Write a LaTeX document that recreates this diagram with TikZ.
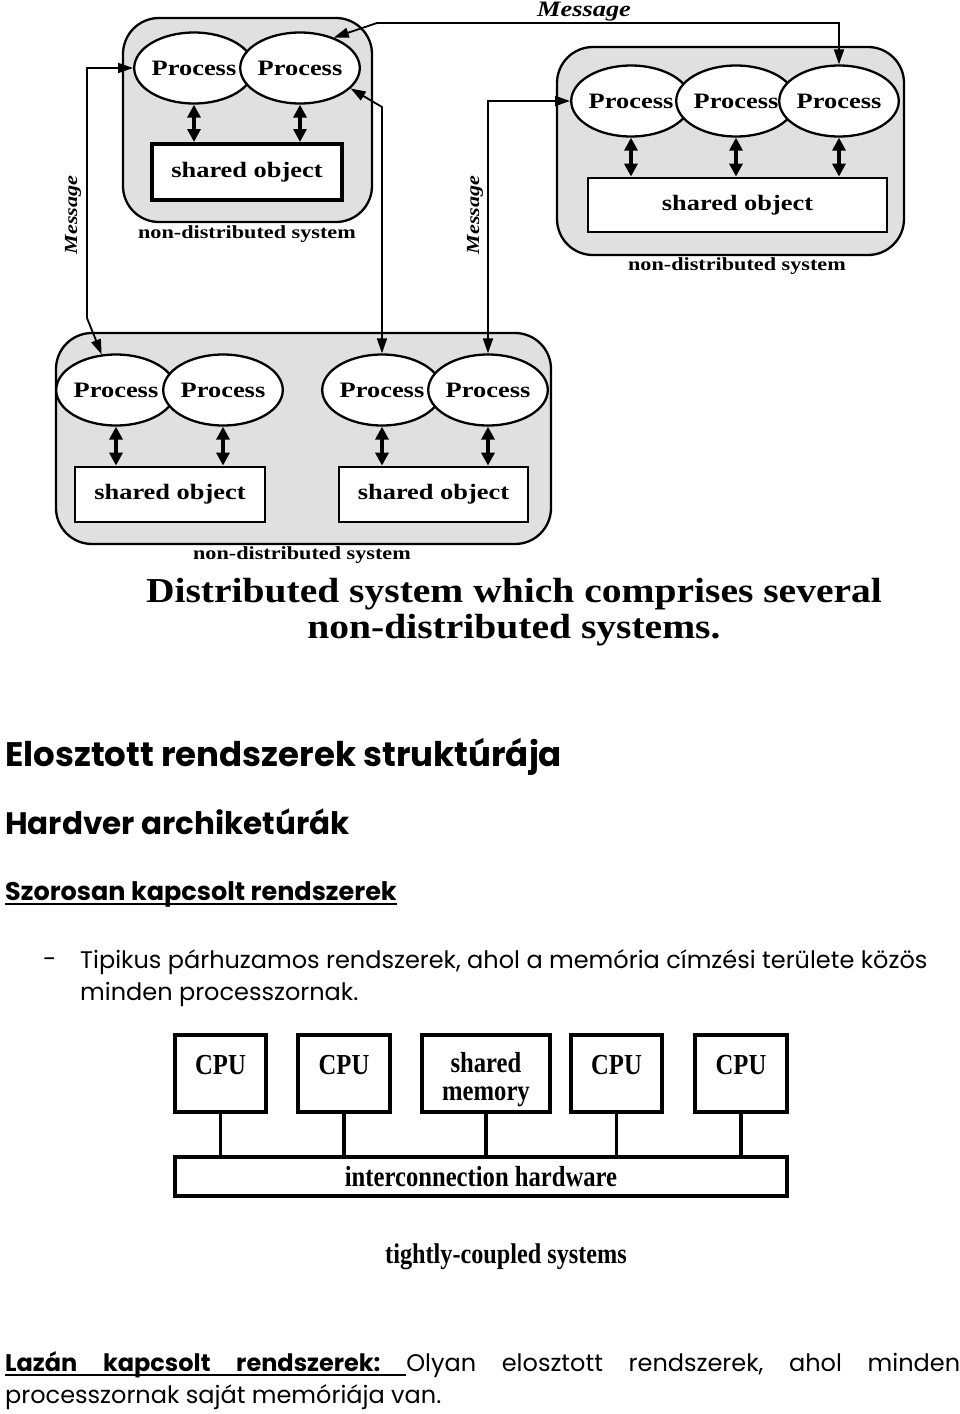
\documentclass[tikz,border=0pt]{standalone}
\usepackage{fontspec}
\setmainfont{Poppins}
\newfontfamily\figfont[FakeStretch=1.2]{Liberation Serif}
\newfontfamily\capfont[FakeStretch=1.13]{Liberation Serif}
\newfontfamily\cpufont[FakeStretch=0.85]{Liberation Serif}
\usetikzlibrary{shapes.geometric, arrows.meta}

\definecolor{sysgray}{RGB}{224,224,224}

% underlined word and underlined stretchable gap
\newcommand\ulword[1]{\setbox0\hbox{#1}\rlap{\vrule height -2.5pt depth 4.5pt width \wd0}\box0}
\newcommand\ulgap{\leaders\hrule height -2.5pt depth 4.5pt\hskip 0.3em plus 1fil}
\newcommand\gap{\hskip 0.3em plus 1fil}

\tikzset{
    system/.style={draw, line width=2.3pt, fill=sysgray, rounded corners=36pt},
    process/.style={ellipse, draw, line width=2.3pt, fill=white, minimum width=100pt, minimum height=71pt, inner sep=0pt, font=\figfont\bfseries\fontsize{22}{22}\selectfont},
    object/.style={draw, line width=2.8pt, fill=white, inner sep=0pt, font=\figfont\bfseries\fontsize{22}{22}\selectfont},
    sysname/.style={font=\figfont\bfseries\fontsize{18.5}{18.5}\selectfont},
    msglabel/.style={font=\figfont\bfseries\itshape\fontsize{22}{22}\selectfont},
    msg/.style={line width=1.8pt, {Triangle[length=15pt,width=10pt]}-{Triangle[length=15pt,width=10pt]}},
    access/.style={line width=3.2pt, {Triangle[length=13pt,width=13pt]}-{Triangle[length=13pt,width=13pt]}},
    cpubox/.style={draw, line width=3.5pt, minimum height=77pt, inner sep=0pt, font=\cpufont\bfseries\fontsize{29}{28}\selectfont},
    bus/.style={line width=3.5pt},
    heading/.style={anchor=west, inner sep=0pt, font=\bfseries}
}

\begin{document}
\begin{tikzpicture}[x=1pt, y=-1pt]
    \useasboundingbox (0,0) rectangle (960,1414);

    %% Distributed system of several non-distributed systems

    % Top left
    \draw[system] (123,18) rectangle (372,222);
    \node[process] (tlA) at (194,68) {Process};
    \node[process] (tlB) at (300,68) {Process};
    \node[object, line width=4pt, minimum width=190pt, minimum height=56pt] (tlObj) at (247,172) {shared object};
    \node[sysname] (tlName) at (247,234) {non-distributed system};
    \draw[access] (tlA.south) -- (tlA.south |- tlObj.north);
    \draw[access] (tlB.south) -- (tlB.south |- tlObj.north);

    % Top right
    \draw[system] (557,47) rectangle (904,255);
    \node[process] (trA) at (631,101) {Process};
    \node[process] (trB) at (736,101) {Process};
    \node[process] (trC) at (839,101) {Process};
    \node[object, minimum width=299pt, minimum height=54pt] (trObj) at (737.5,205) {shared object};
    \node[sysname] (trName) at (737,266) {non-distributed system};
    \foreach \p in {trA,trB,trC}
        \draw[access] (\p.south) -- (\p.south |- trObj.north);

    % Bottom
    \draw[system] (56,333) rectangle (551,544);
    \node[process] (blA) at (116,390) {Process};
    \node[process] (blB) at (223,390) {Process};
    \node[process] (blC) at (382,390) {Process};
    \node[process] (blD) at (488,390) {Process};
    \node[object, minimum width=190pt, minimum height=55pt] (blObj) at (170,494.5) {shared object};
    \node[object, minimum width=189pt, minimum height=55pt] (brObj) at (433.5,494.5) {shared object};
    \node[sysname] (blName) at (302,555) {non-distributed system};
    \foreach \p/\o in {blA/blObj,blB/blObj,blC/brObj,blD/brObj}
        \draw[access] (\p.south) -- (\p.south |- \o.north);

    % Messages
    \draw[msg] (tlA.west) -- (87,68) -- (87,318) -- (blA.112);
    \draw[msg] (tlB.-22) -- (382,107) -- (blC.north);
    \draw[msg] (tlB.42) -- (377,23) -- (839,23) -- (trC.north);
    \draw[msg] (trA.west) -- (488,101) -- (blD.north);
    \node[msglabel, font=\figfont\bfseries\itshape\fontsize{18.5}{18.5}\selectfont, rotate=90] (msgL) at (73,215) {Message};
    \node[msglabel, font=\figfont\bfseries\itshape\fontsize{18.5}{18.5}\selectfont, rotate=90] (msgM) at (475,215) {Message};
    \node[msglabel] (msgT) at (584,12) {Message};

    \node[font=\capfont\bfseries\fontsize{35}{36}\selectfont, align=center] (caption) at (514,612)
        {Distributed system which comprises several\\non-distributed systems.};

    %% Text
    \node[heading, font=\bfseries\fontsize{34}{34}\selectfont] (title) at (5,757) {Elosztott rendszerek struktúrája};
    \node[heading, font=\bfseries\fontsize{31}{31}\selectfont] (hw) at (5,822) {Hardver archiketúrák};
    \node[heading, font=\bfseries\fontsize{25.5}{25.5}\selectfont] (tight) at (5,894) {\ulword{Szorosan kapcsolt rendszerek}};
    \node[anchor=west, inner sep=0pt, font=\fontsize{24}{24}\selectfont] (dash) at (43,963) {-};
    \node[anchor=north west, inner sep=0pt, font=\fontsize{24}{32}\selectfont, align=left] (item) at (80,949)
        {Tipikus párhuzamos rendszerek, ahol a memória címzési területe közös\\minden processzornak.};

    %% Tightly coupled system
    \node[cpubox, minimum width=91pt, text height=19pt, text depth=17pt] (cpuA) at (220.5,1073.5) {CPU};
    \node[cpubox, minimum width=92pt, text height=19pt, text depth=17pt] (cpuB) at (344,1073.5) {CPU};
    \node[cpubox, minimum width=128pt, align=center, text height=58pt, text depth=5pt] (mem) at (486,1073.5) {shared\\memory};
    \node[cpubox, minimum width=91pt, text height=19pt, text depth=17pt] (cpuC) at (616.5,1073.5) {CPU};
    \node[cpubox, minimum width=92pt, text height=19pt, text depth=17pt] (cpuD) at (741,1073.5) {CPU};
    \node[cpubox, minimum width=612pt, minimum height=39pt] (hub) at (481,1176.5) {interconnection hardware};
    \foreach \c in {cpuA,cpuB,mem,cpuC,cpuD}
        \draw[bus] (\c.south) -- (\c.south |- hub.north);
    \node[font=\cpufont\bfseries\fontsize{28.5}{28.5}\selectfont] (tightName) at (506,1257) {tightly-coupled systems};

    %% Loosely coupled
    \node[anchor=north west, inner sep=0pt, align=left, font=\fontsize{24}{32}\selectfont] (loose) at (5,1351)
        {\hbox to 955pt{\ulword{\textbf{Lazán}}\ulgap\ulword{\textbf{kapcsolt}}\ulgap\ulword{\textbf{rendszerek:}}\ulgap
         Olyan\gap elosztott\gap rendszerek,\gap ahol\gap minden}\\processzornak saját memóriája van.};
\end{tikzpicture}
\end{document}
